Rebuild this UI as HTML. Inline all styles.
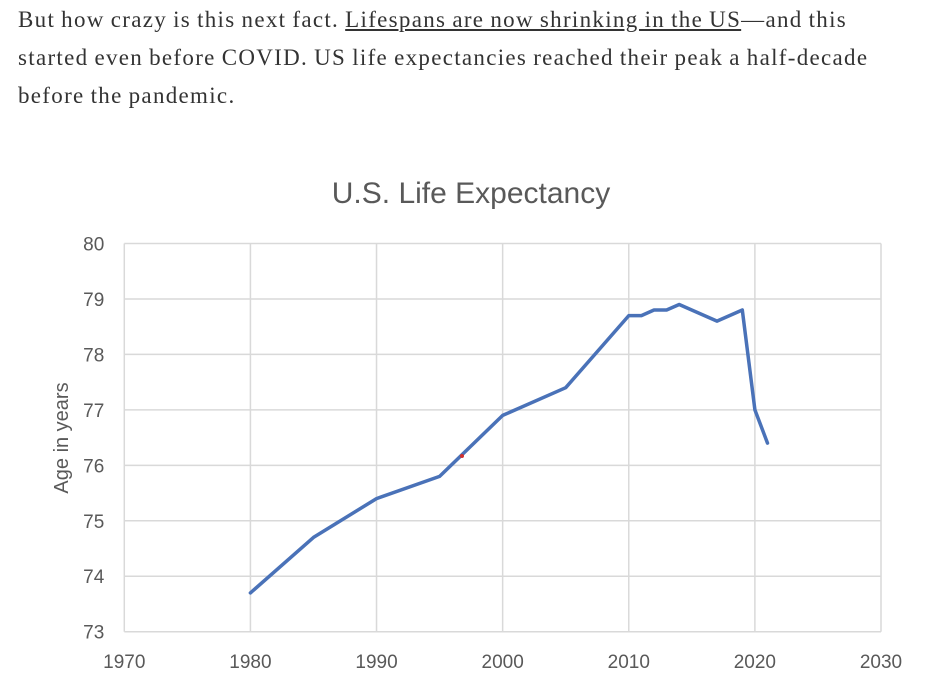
<!DOCTYPE html>
<html><head><meta charset="utf-8"><style>
html,body{margin:0;padding:0;background:#fff;width:934px;height:684px;overflow:hidden}
#para{position:absolute;left:18px;top:1px;width:930px;white-space:nowrap;font-family:"Liberation Serif",serif;font-size:23px;line-height:38px;color:#333;letter-spacing:1.3px;word-spacing:-1px}
#para a{color:#333;text-decoration:underline}
svg{position:absolute;left:0;top:0}
</style></head><body>
<div id="para">But how crazy is this next fact. <a>Lifespans are now shrinking in the US</a>—and this<br>started even before COVID. US life expectancies reached their peak a half-decade<br>before the pandemic.</div>
<svg id="chart" width="934" height="684" font-family="'Liberation Sans',sans-serif"></svg>
<script>
const years=[1980,1985,1990,1995,2000,2005,2010,2011,2012,2013,2014,2017,2019,2020,2021];
const ages=[73.7,74.7,75.4,75.8,76.9,77.4,78.7,78.7,78.8,78.8,78.9,78.6,78.8,77.0,76.4];
const xTicks=[1970,1980,1990,2000,2010,2020,2030];
const yTicks=[73,74,75,76,77,78,79,80];
const NS="http://www.w3.org/2000/svg";
const svg=document.getElementById('chart');
const X0=124.3,X1=881,Y0=631.7,Y1=243.5;
const sx=v=>X0+(v-1970)/(2030-1970)*(X1-X0);
const sy=v=>Y0-(v-73)/(80-73)*(Y0-Y1);
function mk(t,a){const e=document.createElementNS(NS,t);for(const k in a)e.setAttribute(k,a[k]);svg.appendChild(e);return e;}
for(const t of yTicks){
 const l=mk('line',{x1:X0,x2:X1,y1:sy(t),y2:sy(t),stroke:'#d9d9d9','stroke-width':1.5});
 
 
 const tx=mk('text',{x:X0-20,y:sy(t)+7,'text-anchor':'end','font-size':19,fill:'#595959'});
 tx.textContent=t;
 
 
}
for(const t of xTicks){
 const l=mk('line',{x1:sx(t),x2:sx(t),y1:Y1,y2:Y0,stroke:'#d9d9d9','stroke-width':1.5});
 
 
 const tx=mk('text',{x:sx(t),y:668,'text-anchor':'middle','font-size':19,fill:'#595959'});
 tx.textContent=t;
 
 
}
const title=mk('text',{x:471,y:203,'text-anchor':'middle','font-size':30,fill:'#595959'});
title.textContent='U.S. Life Expectancy';


const yt=mk('text',{x:0,y:0,'text-anchor':'middle','font-size':20,fill:'#595959',transform:'translate(68,438) rotate(-90)'});
yt.textContent='Age in years';


const pts=years.map((y,i)=>sx(y).toFixed(1)+','+sy(ages[i]).toFixed(1)).join(' ');
const line=mk('polyline',{points:pts,fill:'none',stroke:'#4a72b8','stroke-width':3.5,'stroke-linejoin':'round','stroke-linecap':'round'});


const dot=mk('circle',{cx:462,cy:456,r:2,fill:'#d03030'});


</script>
</body></html>
